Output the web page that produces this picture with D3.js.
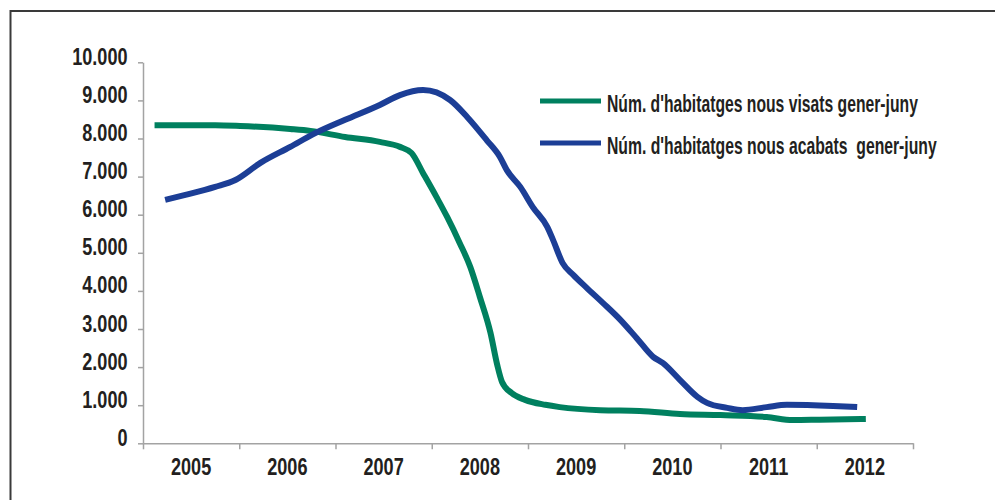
<!DOCTYPE html>
<html>
<head>
<meta charset="utf-8">
<script src="https://cdn.jsdelivr.net/npm/d3@7"></script>
<style>
    body { margin: 0; background: #fff; }
    text { font-family: "Liberation Sans", Arial, sans-serif; font-weight: bold; fill: #231f20; }
</style>
</head>
<body>
<svg id="svg"></svg>
<script>
// Categories and ticks
const years = ["2005", "2006", "2007", "2008", "2009", "2010", "2011", "2012"];
const yTicks = [0, 1000, 2000, 3000, 4000, 5000, 6000, 7000, 8000, 9000, 10000];

// Series labels
const seriesNames = [
    "Núm. d'habitatges nous visats gener-juny",
    "Núm. d'habitatges nous acabats  gener-juny"
];

// Visats: position in years, values
const visatsPos = [2005.12, 2005.75, 2006.01, 2006.53, 2006.74, 2007.10, 2007.46, 2007.67, 2007.79, 2007.91,
    2008.05, 2008.16, 2008.29, 2008.40, 2008.50, 2008.61, 2008.68, 2008.73, 2008.83, 2008.97,
    2009.18, 2009.33, 2009.75, 2010.16, 2010.58, 2011.00, 2011.48, 2011.75, 2012.03, 2012.51];
const visatsValues = [8350, 8350, 8330, 8250, 8200, 8040, 7910, 7780, 7620, 7090,
    6460, 5940, 5260, 4630, 3840, 2900, 2060, 1610, 1320, 1140,
    1010, 950, 870, 850, 770, 740, 690, 610, 620, 640];

// Acabats: position in years, values
const acabatsPos = [2005.23, 2005.44, 2005.75, 2005.96, 2006.22, 2006.53, 2006.79, 2007.10, 2007.46, 2007.67,
    2007.91, 2008.19, 2008.37, 2008.57, 2008.71, 2008.78, 2008.92, 2009.05, 2009.20, 2009.26,
    2009.36, 2009.47, 2009.61, 2009.78, 2009.96, 2010.13, 2010.30, 2010.40, 2010.58, 2010.76,
    2010.86, 2011.07, 2011.23, 2011.48, 2011.69, 2012.17, 2012.42];
const acabatsValues = [6390, 6520, 6730, 6910, 7360, 7780, 8140, 8490, 8880, 9140,
    9270, 9010, 8560, 7960, 7510, 7170, 6730, 6200, 5680, 5340,
    4730, 4420, 4080, 3680, 3240, 2760, 2270, 2110, 1660, 1220,
    1060, 930, 870, 950, 1010, 980, 950];

const colors = ["#00805f", "#1c3e96"];

// SVG Dimensions
const width = 995, height = 500;
const plotLeft = 143, plotRight = 913, plotTop = 62.3, plotBottom = 443.3;
// horizontal squeeze to mimic the condensed font
const squeeze = 0.77;

const svg = d3.select("#svg").attr("width", width).attr("height", height);

// frame
svg.append("rect")
    .attr("x", 10.5).attr("y", 11)
    .attr("width", 1000).attr("height", 600)
    .attr("fill", "none")
    .attr("stroke", "#3a3a3a")
    .attr("stroke-width", 2);

const x = d3.scaleLinear().domain([2005, 2013]).range([plotLeft, plotRight]);
const xBand = d3.scaleBand().domain(years).range([plotLeft, plotRight]);
const y = d3.scaleLinear().domain([0, 10000]).range([plotBottom, plotTop]);

const fmt = (d) => d3.format(",")(d).replace(/,/g, ".");

// y axis
const yAxis = svg.append("g")
    .attr("transform", "translate(" + plotLeft + ",0)")
    .call(d3.axisLeft(y).tickValues(yTicks).tickFormat(fmt).tickSize(5).tickSizeOuter(0));
yAxis.selectAll("text")
    .attr("x", -15.5 / squeeze)
    .attr("dy", 2)
    .attr("transform", "scale(" + squeeze + ",1)")
    .style("font-size", "23.5px");

// x axis
const xAxis = svg.append("g")
    .attr("transform", "translate(0," + plotBottom + ")")
    .call(d3.axisBottom(x).tickValues(d3.range(2005, 2014)).tickFormat("").tickSize(6).tickSizeOuter(0));

svg.selectAll(".domain, .tick line")
    .attr("stroke", "#a3a3a3")
    .attr("stroke-width", 1.5);

svg.append("g")
    .selectAll("text")
    .data(years)
    .enter()
    .append("text")
    .attr("transform", (d) => "translate(" + (xBand(d) + xBand.bandwidth() / 2) + ",475) scale(" + squeeze + ",1)")
    .attr("text-anchor", "middle")
    .style("font-size", "23.5px")
    .text((d) => d);

// lines
const line = d3.line()
    .x((d) => x(d[0]))
    .y((d) => y(d[1]))
    .curve(d3.curveMonotoneX);

const series = [
    d3.zip(visatsPos, visatsValues),
    d3.zip(acabatsPos, acabatsValues)
];

svg.append("g")
    .selectAll("path")
    .data(series)
    .enter()
    .append("path")
    .attr("d", line)
    .attr("fill", "none")
    .attr("stroke", (d, i) => colors[i])
    .attr("stroke-width", 6)
    .attr("stroke-linejoin", "round");

// legend
const legendY = [101, 143];
const legendLen = [311, 330];
const legend = svg.append("g")
    .selectAll("g")
    .data(seriesNames)
    .enter()
    .append("g")
    .attr("transform", (d, i) => "translate(540," + legendY[i] + ")");

legend.append("line")
    .attr("x1", 0).attr("x2", 61)
    .attr("stroke", (d, i) => colors[i])
    .attr("stroke-width", 5);

legend.append("text")
    .style("font-size", "23px")
    .style("white-space", "pre")
    .text((d) => d)
    .attr("transform", function (d, i) {
        const s = legendLen[i] / this.getComputedTextLength();
        return "translate(67,10.5) scale(" + s + ",1)";
    });
</script>
</body>
</html>
